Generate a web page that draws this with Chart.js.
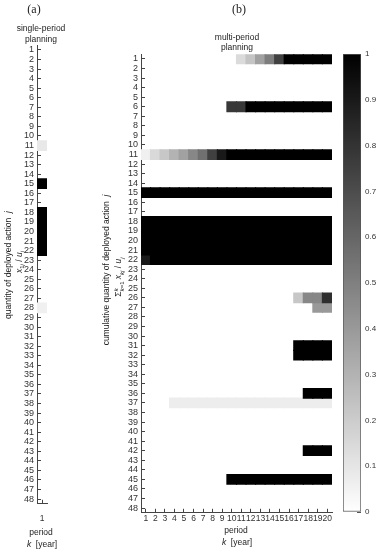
<!DOCTYPE html>
<html>
<head>
<meta charset="utf-8">
<script src="https://cdn.jsdelivr.net/npm/chart.js@4.4.1/dist/chart.umd.min.js"></script>
<style>
  body { margin: 0; background: #fff; }
  #wrap { position: relative; width: 380px; height: 550px; overflow: hidden;
          font-family: 'Liberation Sans', Arial, sans-serif; color: #222; }
  canvas { position: absolute; top: 0; }
  .txt { position: absolute; font-size: 8.5px; line-height: 1; white-space: nowrap;
         transform: translate(-50%, -50%); }
  .rot { transform: translate(-50%, -50%) rotate(-90deg); }
  .panel { font-family: 'Liberation Serif', serif; font-size: 12px; }
  .sum { display: inline-block; vertical-align: middle; font-size: 6px; line-height: 1; text-align: left; }
  sub, sup { font-size: 6px; }
</style>
</head>
<body>
<div id="wrap">
  <canvas id="singleChart" width="100" height="550" style="left:0"></canvas>
  <canvas id="multiChart" width="240" height="550" style="left:100px"></canvas>
  <canvas id="colorbar" width="37" height="550" style="left:343px"></canvas>

  <div class="txt panel" style="left:34px;top:9px">(a)</div>
  <div class="txt panel" style="left:239px;top:9px">(b)</div>

  <div class="txt" style="left:41px;top:28px">single-period</div>
  <div class="txt" style="left:41px;top:38.5px">planning</div>
  <div class="txt" style="left:237px;top:36.5px">multi-period</div>
  <div class="txt" style="left:237px;top:47px">planning</div>

  <div class="txt rot" style="left:8px;top:265px">quantity of deployed action &nbsp;<i>j</i></div>
  <div class="txt rot" style="left:20px;top:262px"><i>x</i><sub>1<i>j</i></sub> / <i>u</i><sub><i>j</i></sub></div>
  <div class="txt rot" style="left:106px;top:270px">cumulative quantity of deployed action &nbsp;<i>j</i></div>
  <div class="txt rot" style="left:119px;top:277px">&Sigma;<span class="sum"><i>k</i><br><i>k</i>=1</span> <i>x</i><sub><i>kj</i></sub> / <i>u</i><sub><i>j</i></sub></div>

  <div class="txt" style="left:41px;top:532px">period</div>
  <div class="txt" style="left:42px;top:544px"><i>k</i> &nbsp;[year]</div>
  <div class="txt" style="left:236px;top:530px">period</div>
  <div class="txt" style="left:237px;top:542px"><i>k</i> &nbsp;[year]</div>
</div>

<script>
const rowLabels = [1, 2, 3, 4, 5, 6, 7, 8, 9, 10, 11, 12, 13, 14, 15, 16, 17, 18, 19, 20, 21, 22, 23, 24,
  25, 26, 27, 28, 29, 30, 31, 32, 33, 34, 35, 36, 37, 38, 39, 40, 41, 42, 43, 44, 45, 46, 47, 48];
const periodLabels = ['1', '2', '3', '4', '5', '6', '7', '8', '9', '10',
  '11', '12', '13', '14', '15', '16', '17', '18', '19', '20'];
const singlePeriodLabels = ['1'];
const colorbarTicks = [0, 0.1, 0.2, 0.3, 0.4, 0.5, 0.6, 0.7, 0.8, 0.9, 1];

// (a) single-period: only rows with a non-zero value
const singleRows = [11, 15, 18, 19, 20, 21, 22, 28];
const singleValues = [0.09, 1, 1, 1, 1, 1, 1, 0.06];

// (b) multi-period: one array of 20 periods per non-zero row
const multiRows = [1, 6, 11, 15, 18, 19, 20, 21, 22, 26, 27, 31, 32, 36, 37, 42, 45];
const multiValues = [
  [0, 0, 0, 0, 0, 0, 0, 0, 0, 0, 0.14, 0.23, 0.37, 0.51, 0.75, 1, 1, 1, 1, 1],
  [0, 0, 0, 0, 0, 0, 0, 0, 0, 0.78, 0.78, 1, 1, 1, 1, 1, 1, 1, 1, 1],
  [0.06, 0.15, 0.22, 0.3, 0.37, 0.47, 0.56, 0.75, 0.9, 1, 1, 1, 1, 1, 1, 1, 1, 1, 1, 1],
  [1, 1, 1, 1, 1, 1, 1, 1, 1, 1, 1, 1, 1, 1, 1, 1, 1, 1, 1, 1],
  [1, 1, 1, 1, 1, 1, 1, 1, 1, 1, 1, 1, 1, 1, 1, 1, 1, 1, 1, 1],
  [1, 1, 1, 1, 1, 1, 1, 1, 1, 1, 1, 1, 1, 1, 1, 1, 1, 1, 1, 1],
  [1, 1, 1, 1, 1, 1, 1, 1, 1, 1, 1, 1, 1, 1, 1, 1, 1, 1, 1, 1],
  [1, 1, 1, 1, 1, 1, 1, 1, 1, 1, 1, 1, 1, 1, 1, 1, 1, 1, 1, 1],
  [0.9, 1, 1, 1, 1, 1, 1, 1, 1, 1, 1, 1, 1, 1, 1, 1, 1, 1, 1, 1],
  [0, 0, 0, 0, 0, 0, 0, 0, 0, 0, 0, 0, 0, 0, 0, 0, 0.22, 0.47, 0.47, 0.82],
  [0, 0, 0, 0, 0, 0, 0, 0, 0, 0, 0, 0, 0, 0, 0, 0, 0, 0, 0.4, 0.4],
  [0, 0, 0, 0, 0, 0, 0, 0, 0, 0, 0, 0, 0, 0, 0, 0, 1, 1, 1, 1],
  [0, 0, 0, 0, 0, 0, 0, 0, 0, 0, 0, 0, 0, 0, 0, 0, 1, 1, 1, 1],
  [0, 0, 0, 0, 0, 0, 0, 0, 0, 0, 0, 0, 0, 0, 0, 0, 0, 1, 1, 1],
  [0, 0, 0, 0.07, 0.07, 0.07, 0.07, 0.07, 0.07, 0.07, 0.07, 0.07, 0.07, 0.07, 0.07, 0.07, 0.07, 0.07, 0.07, 0.07],
  [0, 0, 0, 0, 0, 0, 0, 0, 0, 0, 0, 0, 0, 0, 0, 0, 0, 1, 1, 1],
  [0, 0, 0, 0, 0, 0, 0, 0, 0, 1, 1, 1, 1, 1, 1, 1, 1, 1, 1, 1]
];

const tickFont = { family: "'Liberation Sans', Arial, sans-serif", size: 9, lineHeight: 1 };
const axisColor = '#444';

function grayFor(v) {
  const g = Math.round(255 * (1 - v));
  return `rgb(${g},${g},${g})`;
}

function cellDatasets(rows, valuesByRow) {
  return rows.map((row, i) => {
    const values = valuesByRow[i];
    return {
      label: 'row ' + row,
      data: values.map(v => (v > 0 ? [row - 0.5, row + 0.5] : null)),
      backgroundColor: values.map(grayFor),
      borderWidth: 0,
      inflateAmount: 0.6,
      grouped: false,
      barPercentage: 1,
      categoryPercentage: 1
    };
  });
}

function rowAxis(width) {
  return {
    type: 'linear',
    reverse: true,
    min: 0.5,
    max: 48.5,
    afterBuildTicks: scale => { scale.ticks = rowLabels.map(v => ({ value: v })); },
    afterFit: scale => { scale.width = width; },
    grid: { drawOnChartArea: false, tickLength: -4, color: axisColor },
    border: { color: axisColor },
    ticks: { padding: 7, font: tickFont, color: '#333', autoSkip: false, callback: v => String(v) }
  };
}

function periodAxis(height, padding) {
  return {
    type: 'category',
    offset: true,
    afterFit: scale => { scale.height = height; },
    grid: { offset: false, drawOnChartArea: false, tickLength: -4, color: axisColor },
    border: { color: axisColor },
    ticks: { padding: padding, font: { ...tickFont, size: 8.5 }, color: '#333', autoSkip: false, maxRotation: 0 }
  };
}

function baseOptions(padding, scales) {
  return {
    responsive: false,
    animation: false,
    layout: { padding: padding },
    plugins: { legend: { display: false }, tooltip: { enabled: false } },
    scales: scales
  };
}

function renderSingleChart() {
  const ctx = document.getElementById('singleChart').getContext('2d');
  // wide right padding: the tick padding of a 10px wide x axis is added to the side padding
  new Chart(ctx, {
    type: 'bar',
    data: {
      labels: singlePeriodLabels,
      datasets: cellDatasets(singleRows, singleValues.map(v => [v]))
    },
    options: baseOptions(
      { top: 45.2, right: 53, bottom: 24.2, left: 0 },
      { x: periodAxis(22, 15), y: rowAxis(37) }
    )
  });
}

function renderMultiChart() {
  const ctx = document.getElementById('multiChart').getContext('2d');
  new Chart(ctx, {
    type: 'bar',
    data: {
      labels: periodLabels,
      datasets: cellDatasets(multiRows, multiValues)
    },
    options: baseOptions(
      { top: 54.2, right: 8, bottom: 15.2, left: 0 },
      { x: periodAxis(22, 6), y: rowAxis(41) }
    )
  });
}

function gradientFill(context) {
  const chart = context.chart;
  const area = chart.chartArea;
  if (!area) return '#888';
  const g = chart.ctx.createLinearGradient(0, area.bottom, 0, area.top);
  g.addColorStop(0, '#ffffff');
  g.addColorStop(1, '#000000');
  return g;
}

function renderColorbar() {
  const ctx = document.getElementById('colorbar').getContext('2d');
  new Chart(ctx, {
    type: 'bar',
    data: {
      labels: [''],
      datasets: [{
        data: [[0, 1]],
        backgroundColor: gradientFill,
        borderColor: '#555',
        borderWidth: 1,
        borderSkipped: false,
        barPercentage: 1,
        categoryPercentage: 1
      }]
    },
    options: baseOptions(
      { top: 54, right: 0, bottom: 38, left: 0 },
      {
        x: { display: false },
        y: {
          position: 'right',
          min: 0,
          max: 1,
          afterBuildTicks: scale => { scale.ticks = colorbarTicks.map(v => ({ value: v })); },
          afterFit: scale => { scale.width = 19; },
          grid: { drawOnChartArea: false, tickLength: -4, color: '#555' },
          border: { display: false },
          ticks: {
            padding: 8,
            font: { ...tickFont, size: 8 },
            color: '#333',
            autoSkip: false,
            callback: v => (v === 0 || v === 1 ? String(v) : v.toFixed(1))
          }
        }
      }
    )
  });
}

function init() {
  renderSingleChart();
  renderMultiChart();
  renderColorbar();
}

init();
</script>
</body>
</html>
